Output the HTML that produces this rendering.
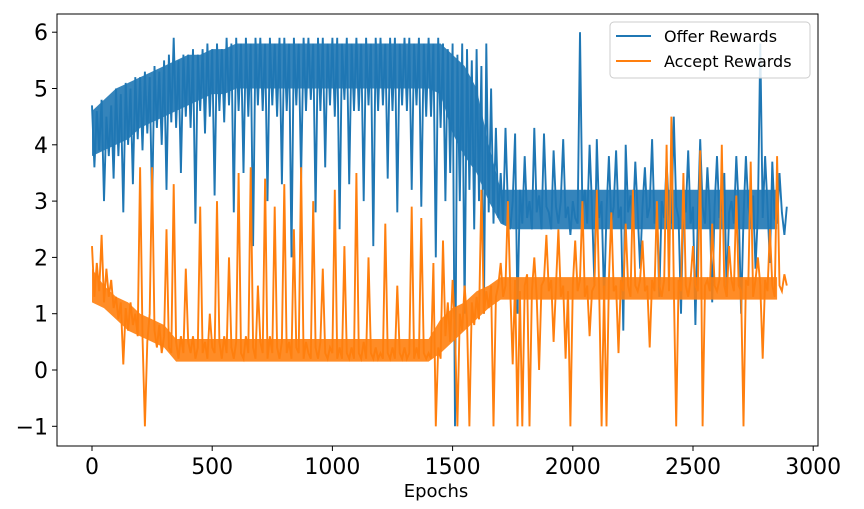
<!DOCTYPE html>
<html><head><meta charset="utf-8"><style>
html,body{margin:0;padding:0;background:#fff;}
svg text{font-family:"DejaVu Sans","Liberation Sans",sans-serif;}
</style></head><body>
<svg width="864" height="504" viewBox="0 0 864 504">
<rect x="0" y="0" width="864" height="504" fill="#fff"/>
<g id="plot"></g>
<g id="axes"></g>
<g>
<rect x="610" y="22" width="200" height="56" rx="4" fill="#fff" fill-opacity="0.85" stroke="#ccc"/>
<line x1="616" y1="36" x2="651" y2="36" stroke="#1f77b4" stroke-width="2"/>
<text x="664" y="42" font-size="16" fill="#000">Offer Rewards</text>
<line x1="616" y1="61" x2="651" y2="61" stroke="#ff7f0e" stroke-width="2"/>
<text x="664" y="67" font-size="16" fill="#000">Accept Rewards</text>
</g>
<text x="436" y="497" font-size="18" text-anchor="middle">Epochs</text>
</svg>
<script>
const xTicks=[0,500,1000,1500,2000,2500,3000];
const yTicks=[-1,0,1,2,3,4,5,6];
const yTickLabels=["\u22121","0","1","2","3","4","5","6"];
const step=10;
const bandStep=50;
const offerRewards=[4.7,3.6,4.6,3.9,4.8,3.0,4.5,3.8,4.7,3.4,
5.0,3.8,4.9,2.8,5.1,4.0,5.0,3.3,5.2,4.1,
5.2,3.9,5.3,4.2,5.2,2.9,5.4,4.3,5.3,4.0,
5.5,3.2,5.6,4.4,5.9,4.3,5.5,3.5,5.6,4.5,
5.6,4.3,5.7,2.6,5.6,4.6,5.7,4.2,5.8,4.5,
5.7,3.1,5.8,4.6,5.7,4.4,5.9,4.7,5.8,2.8,
5.9,4.6,5.8,3.5,5.9,4.5,5.8,2.2,5.9,4.7,
5.9,4.6,5.8,3.0,5.9,4.7,5.8,4.5,5.9,3.3,
5.9,4.6,5.8,2.0,5.9,4.7,5.8,3.4,5.9,4.6,
5.9,4.8,5.8,2.8,5.9,4.6,5.9,3.6,5.8,4.7,
5.9,4.5,5.9,2.5,5.8,4.8,5.9,3.3,5.8,4.6,
5.9,4.6,5.8,3.0,5.9,4.7,5.8,2.2,5.9,4.6,
5.9,4.7,5.8,3.4,5.9,4.6,5.9,2.8,5.8,4.7,
5.9,4.6,5.9,3.2,5.8,4.7,5.9,2.9,5.8,4.5,
5.9,4.5,5.8,2.0,5.9,4.3,5.8,3.0,5.7,3.5,
5.8,-1.0,5.6,3.0,5.8,1.0,5.7,3.2,5.5,2.5,
5.7,3.0,5.4,1.0,5.8,2.8,5.0,2.6,4.3,2.7,
3.5,2.6,4.3,2.9,2.5,3.0,4.2,1.0,3.2,2.6,
3.8,2.7,3.0,2.5,4.3,2.8,3.1,2.5,4.2,2.9,
2.8,2.5,3.9,2.9,2.6,3.0,4.1,2.7,2.9,2.4,
3.0,2.7,2.6,6.0,2.8,3.2,2.6,4.0,2.9,1.5,
4.1,2.7,3.0,1.2,2.8,3.8,2.6,2.9,3.9,2.7,
2.9,0.7,4.0,2.8,3.1,2.6,3.7,2.8,1.8,2.9,
3.6,2.7,2.9,4.1,2.6,2.9,1.3,3.0,2.7,3.7,
2.8,2.6,4.5,2.9,2.7,1.0,3.0,2.8,3.9,2.6,
2.9,0.8,2.7,4.1,2.9,2.6,3.6,2.8,1.2,2.9,
3.8,2.7,2.9,3.5,1.3,2.8,3.0,2.6,3.8,2.9,
1.0,2.7,3.8,2.9,2.6,3.1,1.8,2.8,5.8,2.7,
3.8,2.9,1.9,3.7,2.7,2.6,3.5,2.8,2.4,2.9];
const acceptRewards=[2.2,1.3,1.9,1.4,2.4,1.2,1.8,1.3,1.6,1.1,
1.3,0.9,1.2,0.1,1.1,0.7,1.2,0.8,1.0,0.6,
3.6,0.6,-1.0,0.5,1.0,3.6,0.7,0.4,0.8,0.3,
0.6,2.5,0.4,0.3,3.3,0.5,0.2,0.6,0.3,1.8,
0.5,0.3,0.6,0.2,0.4,2.9,0.3,0.5,0.2,1.0,
0.4,0.3,3.0,0.5,0.2,0.6,0.3,2.0,0.4,0.2,
0.5,3.5,0.3,0.2,0.6,0.3,3.6,0.4,0.2,1.5,
0.5,0.3,3.4,0.2,0.6,0.3,2.9,0.4,0.2,0.5,
3.3,0.3,0.5,0.2,2.5,0.4,0.3,3.6,0.2,0.5,
0.3,0.2,3.0,0.4,0.2,0.5,1.8,0.3,0.2,0.4,
0.3,3.2,0.2,0.4,0.2,2.2,0.3,0.2,0.4,0.2,
3.5,0.3,0.2,0.5,0.2,2.0,0.3,0.2,0.4,0.2,
0.3,0.2,2.6,0.3,0.2,0.4,0.2,1.5,0.3,0.2,
0.4,0.2,0.3,2.9,0.2,0.4,0.2,2.7,0.3,0.2,
0.3,0.2,1.9,-1.0,0.4,0.2,2.3,0.6,1.2,0.5,
1.6,0.7,-1.0,1.0,0.7,1.5,0.9,-1.0,1.2,0.8,
1.3,0.9,3.2,1.0,1.4,1.1,1.5,-1.0,1.3,1.5,
1.9,1.3,1.5,3.0,1.4,0.1,1.6,-1.0,1.4,-1.0,
1.5,1.7,-1.0,1.4,2.0,1.3,0.0,1.5,1.6,2.4,
1.4,1.6,0.5,1.5,2.5,1.3,1.5,0.2,1.4,-1.0,
1.5,2.3,1.4,1.6,3.0,1.3,1.5,0.6,1.4,1.5,
3.2,1.4,-1.0,1.5,-1.0,1.6,2.8,1.4,1.5,0.3,
1.6,1.4,2.6,1.5,1.3,3.2,1.5,1.4,1.6,2.3,
1.4,1.5,0.4,1.6,1.4,3.0,1.5,1.3,1.6,4.0,
1.4,4.5,1.5,-1.0,1.6,1.4,3.5,1.5,1.3,1.6,
2.2,1.5,1.4,3.9,-1.0,1.5,1.6,1.4,2.6,1.5,
1.4,1.6,4.0,1.5,1.3,2.2,1.6,1.4,3.1,1.5,
1.4,-1.0,1.6,1.5,3.7,1.3,1.6,2.0,1.5,0.2,
1.6,1.4,2.5,1.5,1.3,3.8,1.5,1.4,1.7,1.5];
// dense-noise envelopes per 50 epochs (0..2850)
const offerBandLow=[3.8,3.9,4.0,4.1,4.3,4.4,4.5,4.6,4.7,4.8,4.9,4.9,5.0,5.0,5.0,5.0,5.0,5.0,5.0,5.0,5.0,5.0,5.0,5.0,5.0,5.0,5.0,5.0,5.0,4.9,4.2,3.8,3.5,3.0,2.6,2.5,2.5,2.5,2.5,2.5,2.5,2.5,2.5,2.5,2.5,2.5,2.5,2.5,2.5,2.5,2.5,2.5,2.5,2.5,2.5,2.5,2.5,2.5];
const offerBandHigh=[4.6,4.8,5.0,5.1,5.2,5.3,5.4,5.5,5.6,5.6,5.7,5.7,5.8,5.8,5.8,5.8,5.8,5.8,5.8,5.8,5.8,5.8,5.8,5.8,5.8,5.8,5.8,5.8,5.8,5.8,5.6,5.4,5.0,4.0,3.2,3.2,3.2,3.2,3.2,3.2,3.2,3.2,3.2,3.2,3.2,3.2,3.2,3.2,3.2,3.2,3.2,3.2,3.2,3.2,3.2,3.2,3.2,3.2];
const acceptBandLow=[1.2,1.1,0.9,0.7,0.6,0.5,0.4,0.15,0.15,0.15,0.15,0.15,0.15,0.15,0.15,0.15,0.15,0.15,0.15,0.15,0.15,0.15,0.15,0.15,0.15,0.15,0.15,0.15,0.15,0.3,0.5,0.7,0.9,1.1,1.25,1.25,1.25,1.25,1.25,1.25,1.25,1.25,1.25,1.25,1.25,1.25,1.25,1.25,1.25,1.25,1.25,1.25,1.25,1.25,1.25,1.25,1.25,1.25];
const acceptBandHigh=[1.8,1.5,1.3,1.2,1.0,0.9,0.8,0.55,0.55,0.55,0.55,0.55,0.55,0.55,0.55,0.55,0.55,0.55,0.55,0.55,0.55,0.55,0.55,0.55,0.55,0.55,0.55,0.55,0.55,0.9,1.1,1.2,1.4,1.5,1.65,1.65,1.65,1.65,1.65,1.65,1.65,1.65,1.65,1.65,1.65,1.65,1.65,1.65,1.65,1.65,1.65,1.65,1.65,1.65,1.65,1.65,1.65,1.65];

const NS="http://www.w3.org/2000/svg";
const L=57,R=818,T=14,B=446;
function xs(v){return 92+v*0.2404;}
function ys(v){return 370-v*56.3;}
const plot=document.getElementById('plot');
const axes=document.getElementById('axes');
function band(low,high,color,name){
  const pts=[];
  low.forEach((v,i)=>pts.push(xs(i*bandStep+(i===0?0:0)).toFixed(1)+','+ys(v).toFixed(1)));
  for(let i=high.length-1;i>=0;i--)pts.push(xs(i*bandStep).toFixed(1)+','+ys(high[i]).toFixed(1));
  const p=document.createElementNS(NS,'polygon');
  p.setAttribute('points',pts.join(' '));
  p.setAttribute('fill',color);p.setAttribute('fill-opacity','0.9');
  
  
  plot.appendChild(p);
}
function series(vals,color,name){
  const p=document.createElementNS(NS,'polyline');
  p.setAttribute('points',vals.map((v,i)=>xs(i*step).toFixed(1)+','+ys(v).toFixed(1)).join(' '));
  p.setAttribute('fill','none');p.setAttribute('stroke',color);p.setAttribute('stroke-width','1.9');
  
  
  plot.appendChild(p);
}
band(offerBandLow,offerBandHigh,'#1f77b4','offer-rewards-band');
series(offerRewards,'#1f77b4','offer-rewards-line');
band(acceptBandLow,acceptBandHigh,'#ff7f0e','accept-rewards-band');
series(acceptRewards,'#ff7f0e','accept-rewards-line');
const frame=document.createElementNS(NS,'rect');
frame.setAttribute('x',L);frame.setAttribute('y',T);frame.setAttribute('width',R-L);frame.setAttribute('height',B-T);
frame.setAttribute('fill','none');frame.setAttribute('stroke','#000');frame.setAttribute('stroke-width','1');


axes.appendChild(frame);
xTicks.forEach(t=>{
  const x=xs(t);
  const l=document.createElementNS(NS,'line');
  l.setAttribute('x1',x);l.setAttribute('x2',x);l.setAttribute('y1',B);l.setAttribute('y2',B+5);l.setAttribute('stroke','#000');
  
  
  axes.appendChild(l);
  const tx=document.createElementNS(NS,'text');
  tx.setAttribute('x',x);tx.setAttribute('y',B+28);tx.setAttribute('font-size','22');tx.setAttribute('text-anchor','middle');
  tx.textContent=t;
  
  
  axes.appendChild(tx);
});
yTicks.forEach((t,i)=>{
  const y=ys(t);
  const l=document.createElementNS(NS,'line');
  l.setAttribute('x1',L-5);l.setAttribute('x2',L);l.setAttribute('y1',y);l.setAttribute('y2',y);l.setAttribute('stroke','#000');
  
  
  axes.appendChild(l);
  const tx=document.createElementNS(NS,'text');
  tx.setAttribute('x',L-9);tx.setAttribute('y',y+8);tx.setAttribute('font-size','22');tx.setAttribute('text-anchor','end');
  tx.textContent=yTickLabels[i];
  
  
  axes.appendChild(tx);
});
</script>
</body></html>
